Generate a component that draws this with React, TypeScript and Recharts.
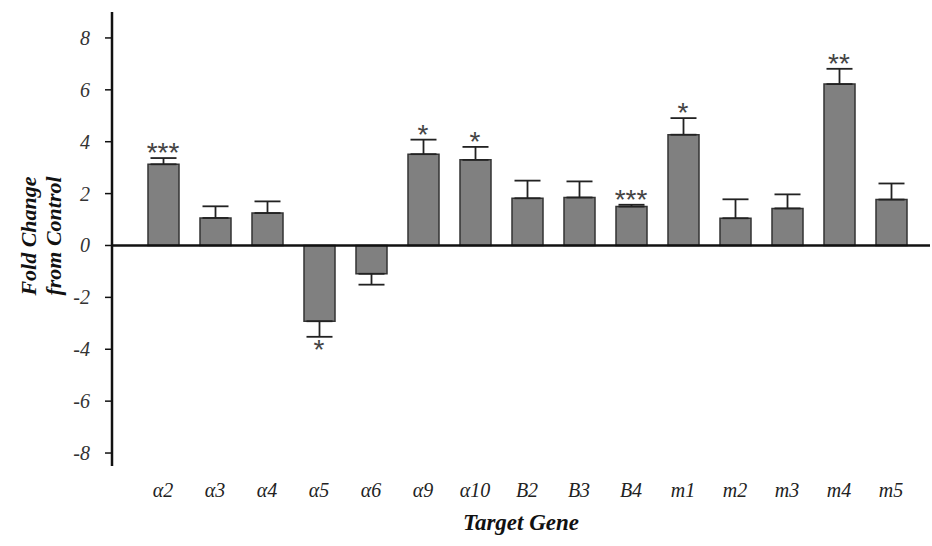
import React from "react";
import {
  ComposedChart,
  Bar,
  Line,
  XAxis,
  YAxis,
  ErrorBar,
  ReferenceLine,
  Label,
} from "recharts";

document.body.style.margin = "0";

const genes = ["α2", "α3", "α4", "α5", "α6", "α9", "α10", "B2", "B3", "B4", "m1", "m2", "m3", "m4", "m5"];
const foldChange = [3.13, 1.06, 1.25, -2.92, -1.09, 3.52, 3.3, 1.82, 1.85, 1.5, 4.27, 1.05, 1.43, 6.22, 1.77];
const sem = [0.24, 0.45, 0.45, 0.6, 0.42, 0.56, 0.5, 0.68, 0.62, 0.07, 0.64, 0.73, 0.54, 0.59, 0.62];
const significance = ["***", "", "", "*", "", "*", "*", "", "", "***", "*", "", "", "**", ""];
const yTicks = [-8, -6, -4, -2, 0, 2, 4, 6, 8];

const SERIF = "Liberation Serif";

// error bars only point away from zero, stars sit at the end of them
const data = genes.map((g, i) => {
  const v = foldChange[i];
  return {
    gene: g,
    value: v,
    err: v >= 0 ? [0, sem[i]] : [sem[i], 0],
    starPos: v >= 0 ? v + sem[i] : v - sem[i],
    sig: significance[i],
  };
});

const renderStar = (props: any) => {
  const { x, y, index } = props;
  const d = data[index];
  if (!d || !d.sig) return null;
  const below = d.value < 0;
  return (
    <text
      key={`star-${index}`}
      x={x}
      y={below ? y + 22 : y + 4}
      textAnchor="middle"
      fontFamily="Liberation Sans"
      fontSize={28}
      fill="#444"
    >
      {d.sig}
    </text>
  );
};

const GeneTick = (props: any) => {
  const { x, y, payload } = props;
  return (
    <text
      x={x}
      y={y + 31}
      textAnchor="middle"
      fontFamily={SERIF}
      fontStyle="italic"
      fontSize={20}
      fill="#222"
    >
      {payload.value}
    </text>
  );
};

const ValueTick = (props: any) => {
  const { x, y, payload } = props;
  return (
    <text
      x={x}
      y={y + 7}
      textAnchor="end"
      fontFamily={SERIF}
      fontStyle="italic"
      fontSize={20}
      fill="#333"
    >
      {payload.value}
    </text>
  );
};

const YTitle = () => (
  <g fontFamily={SERIF} fontStyle="italic" fontWeight="bold" fontSize={22} fill="#111">
    <text x={36} y={236} textAnchor="middle" transform="rotate(-90, 36, 236)">
      Fold Change
    </text>
    <text x={61} y={236} textAnchor="middle" transform="rotate(-90, 61, 236)">
      from Control
    </text>
  </g>
);

export default function App() {
  return (
    <div style={{ width: 932, height: 546, background: "#fff" }}>
      <ComposedChart
        width={932}
        height={546}
        data={data}
        margin={{ top: 12, right: 2, bottom: 30, left: 0 }}
        barSize={31}
      >
        <XAxis
          dataKey="gene"
          axisLine={false}
          tickLine={false}
          tickSize={0}
          tickMargin={0}
          height={50}
          padding={{ left: 25, right: 13 }}
          interval={0}
          tick={<GeneTick />}
        >
          <Label
            value="Target Gene"
            position="insideBottom"
            offset={-14}
            fontFamily={SERIF}
            fontStyle="italic"
            fontWeight="bold"
            fontSize={23}
            fill="#111"
          />
        </XAxis>
        <YAxis
          width={112}
          domain={[-8.5, 9]}
          ticks={yTicks}
          allowDataOverflow
          axisLine={{ stroke: "#111", strokeWidth: 2.5 }}
          tickLine={{ stroke: "#111", strokeWidth: 1.5 }}
          tickSize={7}
          tickMargin={15}
          tick={<ValueTick />}
        >
          <Label content={<YTitle />} />
        </YAxis>
        <Bar
          dataKey="value"
          fill="#808080"
          stroke="#333"
          strokeWidth={1.5}
          isAnimationActive={false}
        >
          <ErrorBar dataKey="err" width={13} stroke="#222" strokeWidth={1.8} direction="y" />
        </Bar>
        <ReferenceLine y={0} stroke="#111" strokeWidth={2.5} />
        <Line
          dataKey="starPos"
          stroke="none"
          dot={false}
          activeDot={false}
          label={renderStar}
          isAnimationActive={false}
        />
      </ComposedChart>
    </div>
  );
}
